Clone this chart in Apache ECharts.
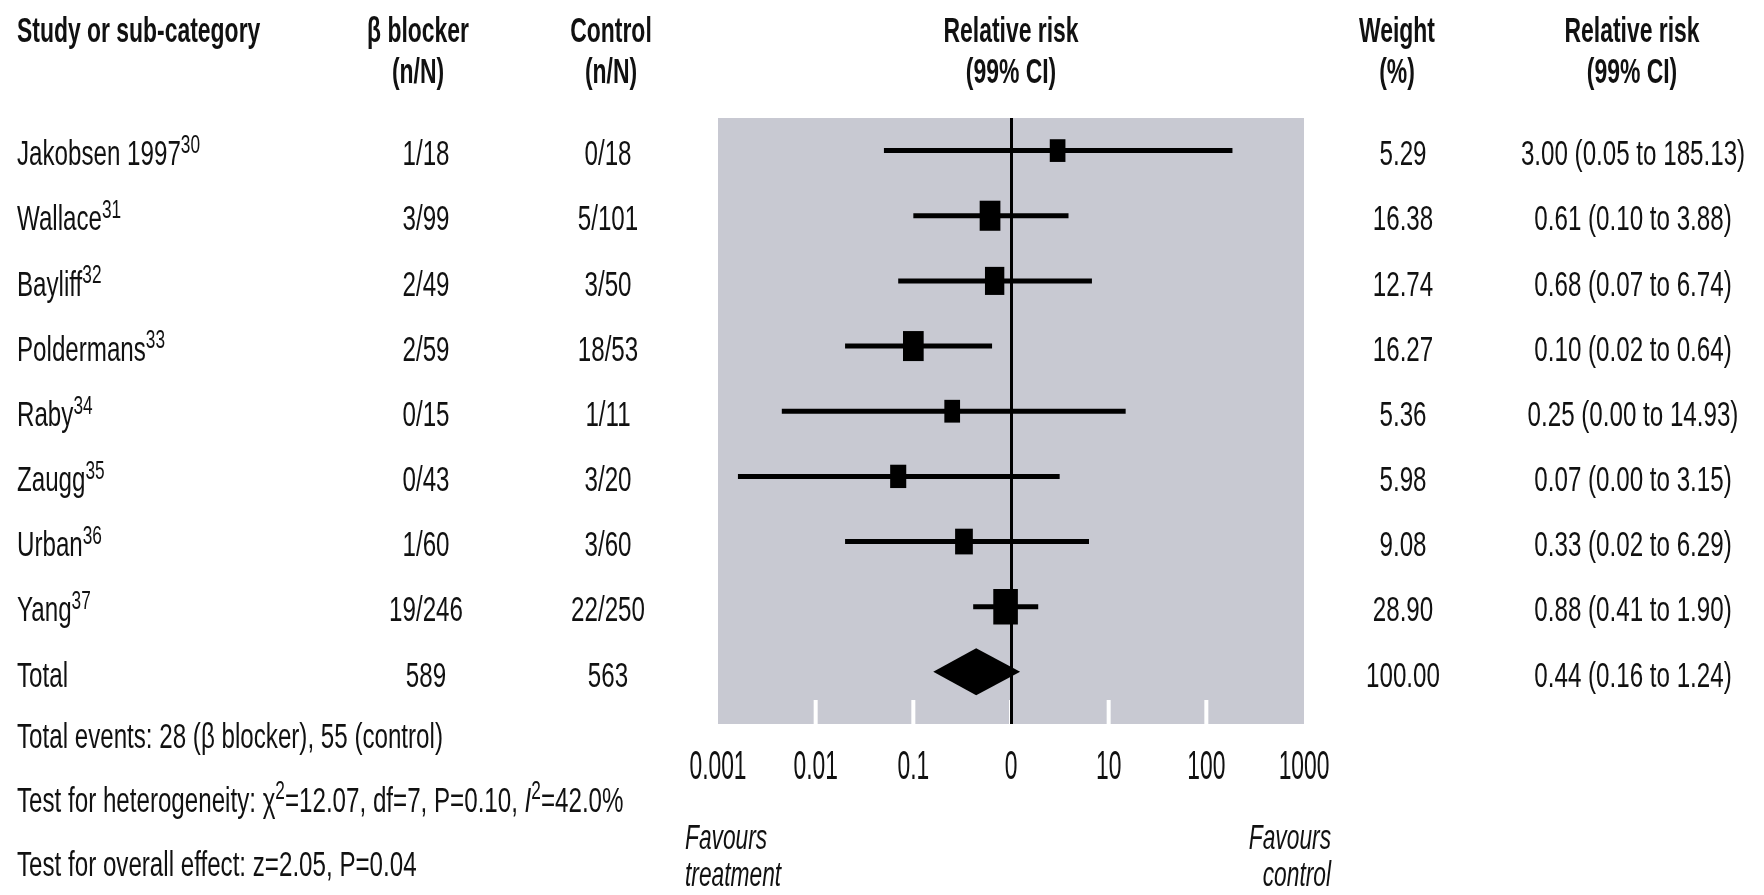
<!DOCTYPE html>
<html>
<head>
<meta charset="utf-8">
<script src="https://cdn.jsdelivr.net/npm/echarts@6/dist/echarts.min.js"></script>
<style>
  html, body { margin: 0; padding: 0; background: #fff; }
  #chart { width: 1764px; height: 895px; }
</style>
</head>
<body>
<div id="chart"></div>
<script>
// ---- Trial data: beta blocker vs control, relative risk with 99% CI ----
const studies    = ['Jakobsen 1997', 'Wallace', 'Bayliff', 'Poldermans', 'Raby', 'Zaugg', 'Urban', 'Yang'];
const refs       = ['30', '31', '32', '33', '34', '35', '36', '37'];
const betaEvents = [1, 3, 2, 2, 0, 0, 1, 19];
const betaTotals = [18, 99, 49, 59, 15, 43, 60, 246];
const ctrlEvents = [0, 5, 3, 18, 1, 3, 3, 22];
const ctrlTotals = [18, 101, 50, 53, 11, 20, 60, 250];
const weights    = [5.29, 16.38, 12.74, 16.27, 5.36, 5.98, 9.08, 28.90];
const rr         = [3.00, 0.61, 0.68, 0.10, 0.25, 0.07, 0.33, 0.88];
const ciLow      = [0.05, 0.10, 0.07, 0.02, 0.0045, 0.0016, 0.02, 0.41];
const ciHigh     = [185.13, 3.88, 6.74, 0.64, 14.93, 3.15, 6.29, 1.90];

// Pooled estimate
const totalLabel  = 'Total';
const totalRR     = 0.44;
const totalLow    = 0.16;
const totalHigh   = 1.24;
const totalWeight = 100.00;

// Summary statistics
const chiSq = '12.07', hetDf = '7', hetP = '0.10', iSq = '42.0';
const zStat = '2.05', overallP = '0.04';

// Axis ticks
const xTicks      = [0.001, 0.01, 0.1, 1, 10, 100, 1000];
const xTickLabels = ['0.001', '0.01', '0.1', '0', '10', '100', '1000'];

// Column headings
const headStudy   = ['Study or sub-category'];
const headBeta    = ['β blocker', '(n/N)'];
const headCtrl    = ['Control', '(n/N)'];
const headPlot    = ['Relative risk', '(99% CI)'];
const headWeight  = ['Weight', '(%)'];
const headRR      = ['Relative risk', '(99% CI)'];
const favLeft     = ['Favours', 'treatment'];
const favRight    = ['Favours', 'control'];

// ---- Styling helpers ----
const FONT = '"Liberation Sans", Arial, Helvetica, sans-serif';
const INK = '#111';
const SX = 0.69;           // condensed lettering

function textEl(x, y, text, o) {
  o = o || {};
  const align = o.align || 'left';
  return {
    type: 'text',
    x: x, y: y,
    scaleX: o.sx || SX,
    silent: true,
    style: {
      text: text, x: 0, y: 0,
      fill: INK,
      fontSize: o.size || 35,
      fontFamily: FONT,
      fontWeight: o.weight || 'normal',
      fontStyle: o.italic ? 'italic' : 'normal',
      lineHeight: o.lineHeight || 44,
      align: align, textAlign: align,
      verticalAlign: 'middle', textVerticalAlign: 'middle',
      rich: o.rich
    }
  };
}

const supRich = {
  sup: { fontSize: 25, fontFamily: FONT, fill: INK, lineHeight: 17, verticalAlign: 'top' },
  it:  { fontSize: 35, fontFamily: FONT, fill: INK, fontStyle: 'italic', lineHeight: 44 }
};

const sum = a => a.reduce((s, v) => s + v, 0);
const fmtCI = (r, lo, hi) => `${r.toFixed(2)} (${lo.toFixed(2)} to ${hi.toFixed(2)})`;

// Column anchors (pixels)
const COL = { study: 17, beta: 426, ctrl: 608, weight: 1403, rr: 1633 };
const HEAD_Y = [32, 73];

// ---- Rows ----
const nRows = studies.length + 1;
const tableRows = [];
for (let i = 0; i < nRows; i++) tableRows.push([1, i]);

const studyData = studies.map((s, i) => [rr[i], i, ciLow[i], ciHigh[i], weights[i]]);
const totalData = [[totalRR, studies.length, totalLow, totalHigh, totalWeight]];
const tickData  = xTicks.map((v, k) => [v, k]);
const Y_MIN = -0.5, Y_MAX = 8.8;

// ---- Static text: headings and footnotes ----
const graphics = [];
graphics.push(textEl(COL.study, HEAD_Y[0], headStudy[0], { weight: 'bold', sx: 0.655 }));
[[headBeta, 418], [headCtrl, 611], [headPlot, 1011], [headWeight, 1397], [headRR, 1632]].forEach(([lines, cx]) => {
  lines.forEach((t, k) => graphics.push(textEl(cx, HEAD_Y[k], t, { weight: 'bold', align: 'center', sx: 0.655 })));
});
graphics.push(textEl(COL.study, 738,
  `Total events: ${sum(betaEvents)} (β blocker), ${sum(ctrlEvents)} (control)`));
graphics.push(textEl(COL.study, 802,
  `Test for heterogeneity: χ{sup|2}=${chiSq}, df=${hetDf}, P=${hetP}, {it|I}{sup|2}=${iSq}%`, { rich: supRich }));
graphics.push(textEl(COL.study, 866, `Test for overall effect: z=${zStat}, P=${overallP}`));
favLeft.forEach((t, k) => graphics.push(textEl(685, 839 + k * 37, t, { italic: true, sx: 0.65 })));
favRight.forEach((t, k) => graphics.push(textEl(1331, 839 + k * 37, t, { italic: true, sx: 0.65, align: 'right' })));

// ---- Chart ----
const chart = echarts.init(document.getElementById('chart'), null, { renderer: 'canvas' });

const option = {
  animation: false,
  backgroundColor: '#fff',
  grid: {
    left: 718, width: 586, top: 118, height: 606,
    show: true, backgroundColor: '#c8c9d2', borderWidth: 0
  },
  xAxis: {
    type: 'log', logBase: 10, min: 0.001, max: 1000, splitNumber: 6,
    position: 'bottom',
    axisLine: { show: false, onZero: false },
    axisLabel: { show: false },
    splitLine: { show: false },
    minorTick: { show: false },
    axisTick: { show: false }
  },
  yAxis: { type: 'value', min: Y_MIN, max: Y_MAX, inverse: true, show: false },
  graphic: { elements: graphics },
  series: [
    {
      // Table cells aligned on each row of the plot
      type: 'custom', name: 'table', clip: false, silent: true,
      data: tableRows,
      encode: { x: 0, y: 1 },
      renderItem: function (params, api) {
        const i = api.value(1);
        const y = api.coord([1, i])[1] + 5;
        const isTotal = i >= studies.length;
        const name = isTotal ? totalLabel : `${studies[i]}{sup|${refs[i]}}`;
        const beta = isTotal ? String(sum(betaTotals)) : `${betaEvents[i]}/${betaTotals[i]}`;
        const ctrl = isTotal ? String(sum(ctrlTotals)) : `${ctrlEvents[i]}/${ctrlTotals[i]}`;
        const w = (isTotal ? totalWeight : weights[i]).toFixed(2);
        const ci = isTotal ? fmtCI(totalRR, totalLow, totalHigh) : fmtCI(rr[i], ciLow[i], ciHigh[i]);
        return {
          type: 'group',
          children: [
            textEl(COL.study, y, name, { rich: supRich }),
            textEl(COL.beta, y, beta, { align: 'center' }),
            textEl(COL.ctrl, y, ctrl, { align: 'center' }),
            textEl(COL.weight, y, w, { align: 'center' }),
            textEl(COL.rr, y, ci, { align: 'center' })
          ]
        };
      }
    },
    {
      // Log-axis ticks: white notches inside the panel plus labels below
      type: 'custom', name: 'ticks', clip: false, silent: true,
      data: tickData,
      encode: { x: 0 },
      renderItem: function (params, api) {
        const k = api.value(1);
        const p = api.coord([api.value(0), Y_MAX]);
        const children = [];
        if (k > 0 && k < xTicks.length - 1) {
          children.push({ type: 'line', shape: { x1: p[0], y1: p[1], x2: p[0], y2: p[1] - 24 },
                          style: { stroke: '#fff', lineWidth: 4 } });
        }
        children.push(textEl(p[0], p[1] + 44, xTickLabels[k], { align: 'center', size: 40, sx: 0.57 }));
        return { type: 'group', children: children };
      }
    },
    {
      // Study estimates: CI line and weighted box
      type: 'custom', name: 'studies', clip: false, silent: true,
      data: studyData,
      encode: { x: [0, 2, 3], y: 1 },
      renderItem: function (params, api) {
        const row = api.value(1);
        const c = api.coord([api.value(0), row]);
        const lo = api.coord([api.value(2), row]);
        const hi = api.coord([api.value(3), row]);
        const bw = 9 + 2.9 * Math.sqrt(api.value(4));
        const bh = bw * 1.45;
        return {
          type: 'group',
          children: [
            { type: 'line', shape: { x1: lo[0], y1: c[1], x2: hi[0], y2: c[1] },
              style: { stroke: '#000', lineWidth: 5 } },
            { type: 'rect', shape: { x: c[0] - bw / 2, y: c[1] - bh / 2, width: bw, height: bh },
              style: { fill: '#000' } }
          ]
        };
      }
    },
    {
      // Pooled estimate diamond and line of no effect
      type: 'custom', name: 'total', clip: false, silent: true,
      data: totalData,
      encode: { x: [0, 2, 3], y: 1 },
      renderItem: function (params, api) {
        const row = api.value(1);
        const c = api.coord([api.value(0), row]);
        const lo = api.coord([api.value(2), row]);
        const hi = api.coord([api.value(3), row]);
        const h = 47;
        return {
          type: 'polygon',
          shape: { points: [[lo[0], c[1]], [c[0], c[1] - h / 2], [hi[0], c[1]], [c[0], c[1] + h / 2]] },
          style: { fill: '#000' }
        };
      },
      markLine: {
        silent: true, symbol: 'none', label: { show: false },
        lineStyle: { color: '#000', width: 3, type: 'solid' },
        data: [{ xAxis: 1 }]
      }
    }
  ]
};

chart.setOption(option);
</script>
</body>
</html>
